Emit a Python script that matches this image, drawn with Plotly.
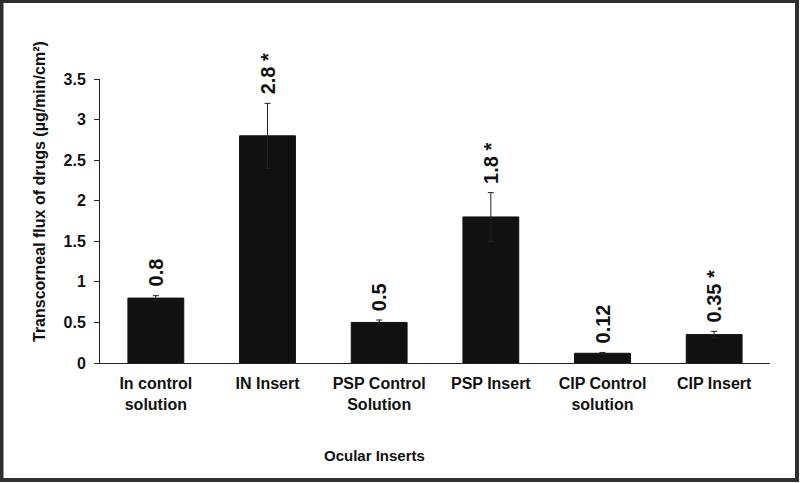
import plotly.graph_objects as go

categories = ["In control<br>solution", "IN Insert", "PSP Control<br>Solution",
              "PSP Insert", "CIP Control<br>solution", "CIP Insert"]
flux = [0.8, 2.8, 0.5, 1.8, 0.12, 0.35]
errors = [0.03, 0.4, 0.03, 0.3, 0.01, 0.04]
labels = ["0.8", "2.8 *", "0.5", "1.8 *", "0.12", "0.35 *"]
y_ticks = [0, 0.5, 1, 1.5, 2, 2.5, 3, 3.5]
y_ticktext = ["0", "0.5", "1", "1.5", "2", "2.5", "3", "3.5"]

W, H = 800, 483
L, R, T, B = 100, 30, 79, 120
pw, ph = W - L - R, H - T - B

def px(x):
    return (x - L) / pw

def py(y):
    return (H - B - y) / ph

FONT = "Arial, Liberation Sans, sans-serif"

fig = go.Figure()
fig.add_trace(go.Bar(
    x=categories, y=flux,
    marker=dict(color="#111111", line=dict(color="#111111", width=1)),
    error_y=dict(type="data", array=errors, visible=True, color="#222222",
                 thickness=1, width=3),
    width=0.5,
))

for c, v, e, t in zip(categories, flux, errors, labels):
    fig.add_annotation(x=c, y=v + e, text=t, textangle=-90, showarrow=False,
                       xanchor="center", yanchor="bottom", yshift=7,
                       font=dict(family=FONT, size=20, color="#111111", weight="bold"))

fig.add_annotation(xref="paper", yref="paper", x=px(39), y=py(192),
                   text="Transcorneal flux of drugs (µg/min/cm²)", textangle=-90,
                   showarrow=False, xanchor="center", yanchor="middle",
                   font=dict(family=FONT, size=16, color="#111111", weight="bold"))
fig.add_annotation(xref="paper", yref="paper", x=px(374), y=py(455),
                   text="Ocular Inserts", showarrow=False,
                   xanchor="center", yanchor="middle",
                   font=dict(family=FONT, size=15, color="#111111", weight="bold"))

fig.add_shape(type="rect", xref="paper", yref="paper",
              x0=px(1.5), x1=px(797), y0=py(1), y1=py(480),
              line=dict(color="#2e2e2e", width=4), layer="above")

fig.update_layout(
    width=W, height=H,
    margin=dict(l=L, r=R, t=T, b=B),
    paper_bgcolor="white", plot_bgcolor="white",
    showlegend=False,
    xaxis=dict(showline=True, linecolor="#222222", linewidth=1, ticks="",
               tickfont=dict(family=FONT, size=16, color="#111111", weight="bold"),
               ticklabelstandoff=6, showgrid=False, zeroline=False),
    yaxis=dict(range=[0, 3.5], tickvals=y_ticks, ticktext=y_ticktext,
               showline=True, linecolor="#222222", linewidth=1,
               ticks="outside", ticklen=5, tickcolor="#222222",
               tickfont=dict(family=FONT, size=16, color="#111111", weight="bold"),
               ticklabelstandoff=5, showgrid=False, zeroline=False),
    yaxis2=dict(range=[0, 3.5], tickvals=y_ticks, overlaying="y", side="left",
                ticks="inside", ticklen=4, tickcolor="#222222",
                showticklabels=False, showline=False, showgrid=False, zeroline=False),
)

fig.write_html("out.html", config={"displayModeBar": False},
               post_script="document.body.style.margin='0px';document.body.style.overflow='hidden';")
